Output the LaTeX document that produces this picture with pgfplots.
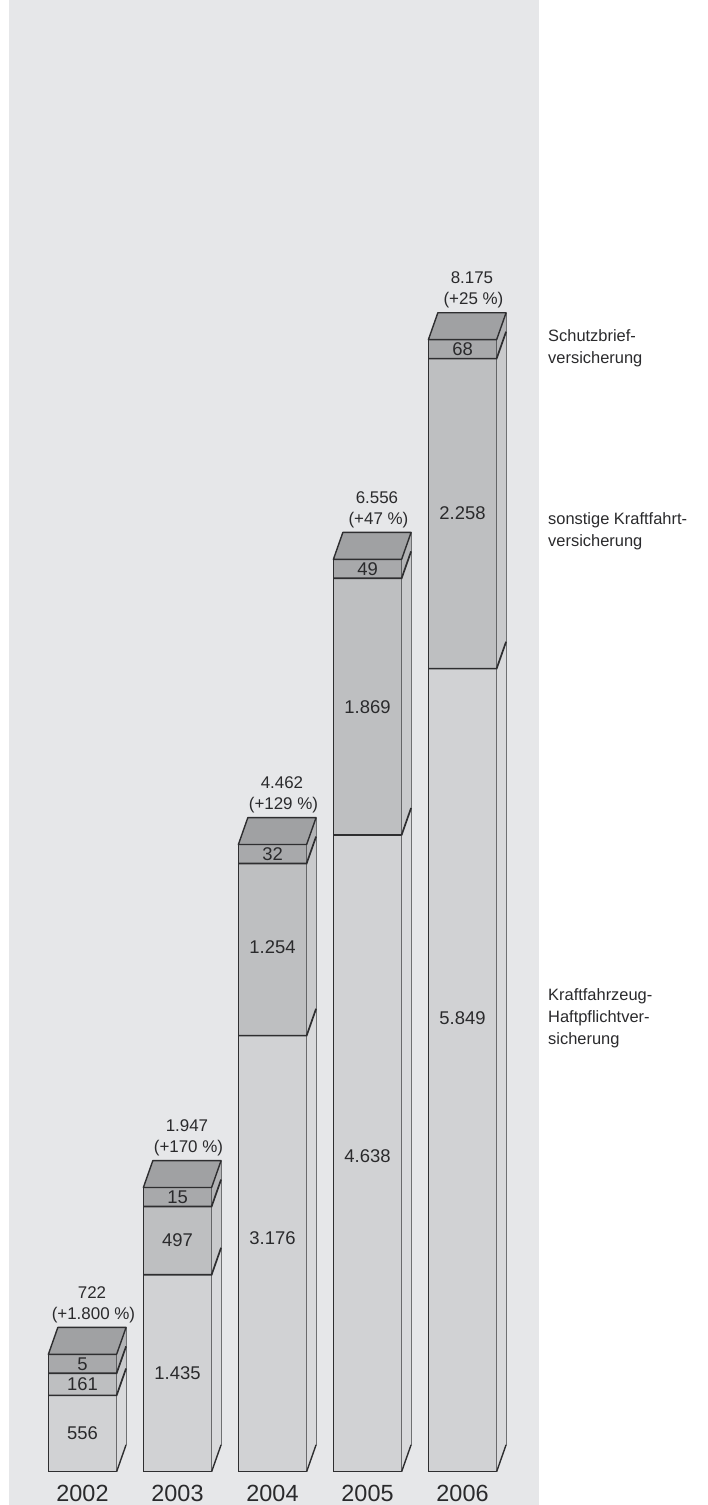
\documentclass[border=0pt]{standalone}
\usepackage{pgfplots}
\usepackage{pgfplotstable}
\pgfplotsset{compat=1.18}
\usepackage{fontspec}
\setmainfont{Liberation Sans}

\definecolor{panel}{HTML}{E6E7E9}
\definecolor{haft}{HTML}{D1D2D4}
\definecolor{haftside}{HTML}{D9DADC}
\definecolor{sonst}{HTML}{BEBFC1}
\definecolor{sonstside}{HTML}{C9CACC}
\definecolor{schutz}{HTML}{A8A9AB}
\definecolor{schutzside}{HTML}{B3B4B6}
\definecolor{topface}{HTML}{A0A1A3}
\definecolor{edge}{HTML}{2E2E30}
\definecolor{txt}{HTML}{2A2A2C}
\definecolor{backedge}{HTML}{6F7072}

% schutzh: the small top segment is drawn with a fixed minimum height
% hl, sl: heights at which the labels of the two big segments sit
\pgfplotstableread{
x year haft sonst schutz schutzh total pct hl sl
0 2002 556 161 5 138 722 1800 278 636
1 2003 1435 497 15 138 1947 170 718 1683
2 2004 3176 1254 32 138 4462 129 1700 3820
3 2005 4638 1869 49 138 6556 47 2300 5572
4 2006 5849 2258 68 138 8175 25 3300 6978
}\datatab

\pgfkeys{/pgf/number format/.cd,1000 sep={.},assume math mode=true}

\tikzset{
  seg/.style={font=\fontsize{18.5}{20}\selectfont, text=txt},
  tot/.style={anchor=base, font=\fontsize{17}{20}\selectfont, text=txt},
  yr/.style={anchor=base, font=\fontsize{23.5}{26}\selectfont, text=txt},
}

\begin{document}
\begin{tikzpicture}[x=1bp,y=1bp]
\fill[white] (0,0) rectangle (708,1505);
\fill[panel] (9,0) rectangle (539,1505);
\begin{axis}[
    at={(0,0)}, anchor=south west,
    scale only axis, width=708bp, height=1505bp,
    xmin=-0.8684, xmax=6.5842, ymin=-242.5, ymax=10719,
    hide axis, clip=false,
    ybar stacked, bar width=68.5bp,
  ]
  \addplot[fill=haft, draw=edge, line width=1.4bp] table[x=x, y=haft] {\datatab};
  \addplot[fill=sonst, draw=edge, line width=1.4bp] table[x=x, y=sonst] {\datatab};
  \addplot[fill=schutz, draw=edge, line width=1.4bp] table[x=x, y=schutzh] {\datatab};

  % named points on each bar: boundaries and label positions
  \pgfplotsinvokeforeach{0,...,4}{%
    \pgfplotstablegetelem{#1}{haft}\of\datatab\let\va\pgfplotsretval
    \pgfplotstablegetelem{#1}{sonst}\of\datatab\let\vb\pgfplotsretval
    \pgfplotstablegetelem{#1}{schutzh}\of\datatab\let\vh\pgfplotsretval
    \pgfplotstablegetelem{#1}{hl}\of\datatab\let\ma\pgfplotsretval
    \pgfplotstablegetelem{#1}{sl}\of\datatab\let\mb\pgfplotsretval
    \pgfmathsetmacro\ya{\va}
    \pgfmathsetmacro\yb{\va+\vb}
    \pgfmathsetmacro\yc{\va+\vb+\vh}
    \pgfmathsetmacro\mc{\va+\vb+\vh/2}
    \edef\doit{%
      \noexpand\coordinate (b0-#1) at (axis cs:#1,0);
      \noexpand\coordinate (b1-#1) at (axis cs:#1,\ya);
      \noexpand\coordinate (b2-#1) at (axis cs:#1,\yb);
      \noexpand\coordinate (b3-#1) at (axis cs:#1,\yc);
      \noexpand\coordinate (m1-#1) at (axis cs:#1,\ma);
      \noexpand\coordinate (m2-#1) at (axis cs:#1,\mb);
      \noexpand\coordinate (m3-#1) at (axis cs:#1,\mc);
    }\doit
  }
\end{axis}

\pgfplotsinvokeforeach{0,...,4}{%
  % side faces
  \fill[haftside] ([xshift=34.25]b0-#1) -- ([xshift=43.75,yshift=27]b0-#1) -- ([xshift=43.75,yshift=27]b1-#1) -- ([xshift=34.25]b1-#1) -- cycle;
  \fill[sonstside] ([xshift=34.25]b1-#1) -- ([xshift=43.75,yshift=27]b1-#1) -- ([xshift=43.75,yshift=27]b2-#1) -- ([xshift=34.25]b2-#1) -- cycle;
  \fill[schutzside] ([xshift=34.25]b2-#1) -- ([xshift=43.75,yshift=27]b2-#1) -- ([xshift=43.75,yshift=27]b3-#1) -- ([xshift=34.25]b3-#1) -- cycle;
  \draw[backedge, line width=1bp] ([xshift=43.75,yshift=27]b0-#1) -- ([xshift=43.75,yshift=27]b3-#1);
  \draw[edge, line width=1.4bp] ([xshift=34.25]b0-#1) -- ([xshift=43.75,yshift=27]b0-#1);
  \draw[edge, line width=1.7bp] ([xshift=-34.25]b1-#1) -- ([xshift=34.25]b1-#1) -- ([xshift=43.75,yshift=27]b1-#1);
  \draw[edge, line width=1.7bp] ([xshift=-34.25]b2-#1) -- ([xshift=34.25]b2-#1) -- ([xshift=43.75,yshift=27]b2-#1);
  % top face
  \filldraw[fill=topface, draw=edge, line width=1.4bp, line join=round]
    ([xshift=-34.25]b3-#1) -- ([xshift=34.25]b3-#1) -- ([xshift=43.75,yshift=27]b3-#1) -- ([xshift=-24.75,yshift=27]b3-#1) -- cycle;
  % labels
  \pgfplotstablegetelem{#1}{haft}\of\datatab
  \node[seg] at (m1-#1) {\pgfmathprintnumber{\pgfplotsretval}};
  \pgfplotstablegetelem{#1}{sonst}\of\datatab
  \node[seg] at (m2-#1) {\pgfmathprintnumber{\pgfplotsretval}};
  \pgfplotstablegetelem{#1}{schutz}\of\datatab
  \node[seg] at (m3-#1) {\pgfmathprintnumber{\pgfplotsretval}};
  \pgfplotstablegetelem{#1}{total}\of\datatab
  \node[tot] at ([xshift=9.5,yshift=56.5]b3-#1) {\pgfmathprintnumber{\pgfplotsretval}};
  \pgfplotstablegetelem{#1}{pct}\of\datatab
  \node[tot] at ([xshift=11,yshift=34.8]b3-#1) {(+\pgfmathprintnumber{\pgfplotsretval} \%)};
  \pgfplotstablegetelem{#1}{year}\of\datatab
  \node[yr] at ([yshift=-30]b0-#1) {\pgfplotsretval};
}

\begin{scope}[every node/.style={anchor=base west, inner sep=0pt, text=txt, font=\fontsize{16.5}{20}\selectfont}]
  \node at (548,1163.3) {Schutzbrief-};
  \node at (548,1141.7) {versicherung};
  \node at (548,980) {sonstige Kraftfahrt-};
  \node at (548,958.3) {versicherung};
  \node at (548,504) {Kraftfahrzeug-};
  \node at (548,482.3) {Haftpflichtver-};
  \node at (548,460.6) {sicherung};
\end{scope}
\pgfresetboundingbox
\useasboundingbox (0,0) rectangle (708,1505);
\end{tikzpicture}
\end{document}
